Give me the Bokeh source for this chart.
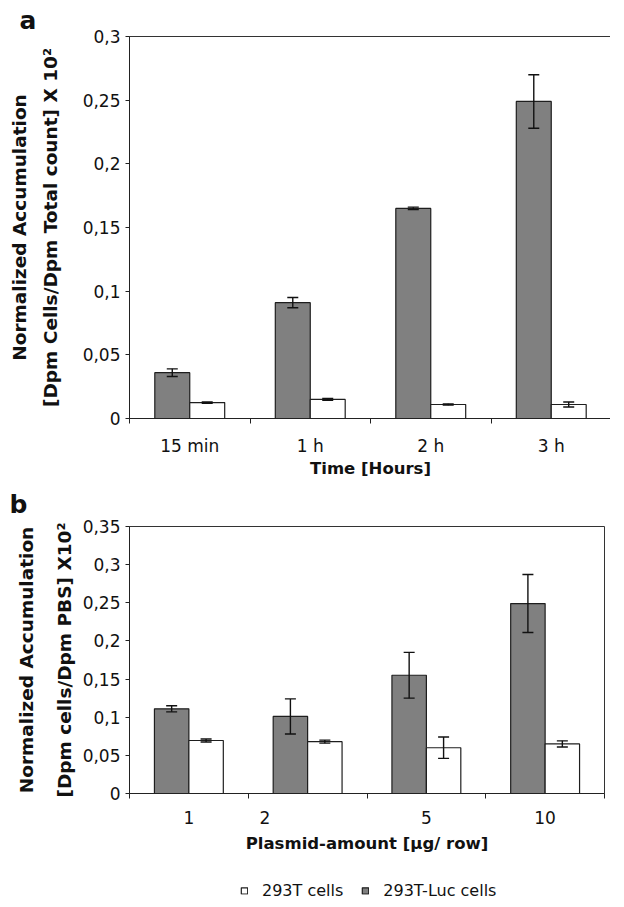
from bokeh.plotting import figure
from bokeh.models import (ColumnDataSource, Range1d, FixedTicker, Whisker, TeeHead,
                          Legend, LegendItem)
from bokeh.layouts import column
from bokeh.embed import file_html
from bokeh.resources import INLINE

# ---------------- data ----------------
time_labels = ["15 min", "1 h", "2 h", "3 h"]
luc_a = [0.036, 0.091, 0.165, 0.249]
luc_a_err = [0.003, 0.004, 0.001, 0.021]
ctrl_a = [0.0125, 0.015, 0.011, 0.011]
ctrl_a_err = [0.0005, 0.0007, 0.0005, 0.002]
ya_ticks = [0, 0.05, 0.1, 0.15, 0.2, 0.25, 0.3]
ya_labels = ["0", "0,05", "0,1", "0,15", "0,2", "0,25", "0,3"]

plasmid_labels = ["1", "2", "5", "10"]
luc_b = [0.111, 0.101, 0.155, 0.249]
luc_b_err = [0.004, 0.023, 0.030, 0.038]
ctrl_b = [0.0695, 0.068, 0.060, 0.065]
ctrl_b_err = [0.002, 0.002, 0.014, 0.004]
yb_ticks = [0, 0.05, 0.1, 0.15, 0.2, 0.25, 0.3, 0.35]
yb_labels = ["0", "0,05", "0,1", "0,15", "0,2", "0,25", "0,3", "0,35"]

legend_labels = ["293T cells", "293T-Luc cells"]

# ---------------- style ----------------
FONT = "DejaVu Sans"
GRAY = "#808080"
EDGE = "#1e1e1e"
BAR_W = 0.29
OFF_G = 0.355
OFF_W = 0.645


def panel(cats, luc, luc_err, ctrl, ctrl_err, yticks, ylabels, ymax,
          xlabel, ylabel, letter, fw, fh, bl, bt, bb, br, lab_shift, lh, y_standoff,
          title_standoff, x_standoff):
    p = figure(output_backend="svg", toolbar_location=None,
               frame_width=fw, frame_height=fh,
               min_border_left=bl, min_border_top=bt, min_border_bottom=bb,
               min_border_right=br,
               x_range=Range1d(0, len(cats)), y_range=Range1d(0, ymax))
    p.grid.visible = False
    p.outline_line_color = "#333333"
    p.outline_line_width = 1
    p.background_fill_color = "white"
    p.border_fill_color = "white"

    p.title.text = letter
    p.title.align = "left"
    p.title.offset = -(bl - 9)
    p.title.text_font = FONT
    p.title.text_font_style = "bold"
    p.title.text_font_size = "25px"
    p.title.text_color = "#111111"
    p.title.text_line_height = 1.0
    p.title.standoff = title_standoff

    idx = list(range(len(cats)))
    src_g = ColumnDataSource(dict(
        x=[i + OFF_G for i in idx], top=luc,
        up=[v + e for v, e in zip(luc, luc_err)],
        lo=[v - e for v, e in zip(luc, luc_err)]))
    src_w = ColumnDataSource(dict(
        x=[i + OFF_W for i in idx], top=ctrl,
        up=[v + e for v, e in zip(ctrl, ctrl_err)],
        lo=[v - e for v, e in zip(ctrl, ctrl_err)]))
    p.vbar(x="x", top="top", bottom=0, width=BAR_W, source=src_g,
           fill_color=GRAY, line_color=EDGE, line_width=1.2)
    p.vbar(x="x", top="top", bottom=0, width=BAR_W, source=src_w,
           fill_color="white", line_color=EDGE, line_width=1.2)
    for s in (src_g, src_w):
        w = Whisker(source=s, base="x", upper="up", lower="lo", dimension="height",
                    line_color="#111111", line_width=1.4, level="annotation",
                    upper_head=TeeHead(size=11, line_color="#111111", line_width=1.4),
                    lower_head=TeeHead(size=11, line_color="#111111", line_width=1.4))
        p.add_layout(w)

    # x axis: boundary minor ticks, labels at group centres
    label_pos = [i + 0.5 + s for i, s in zip(idx, lab_shift)]
    xa = p.xaxis[0]
    xa.ticker = FixedTicker(ticks=label_pos, minor_ticks=list(range(len(cats) + 1)))
    xa.major_label_overrides = {pos: c for pos, c in zip(label_pos, cats)}
    xa.major_tick_out = 0
    xa.major_tick_in = 0
    xa.minor_tick_out = 5
    xa.minor_tick_in = 0
    xa.minor_tick_line_color = "#222222"
    xa.axis_line_color = "#222222"
    xa.major_label_standoff = 12
    xa.major_label_text_font = FONT
    xa.major_label_text_font_size = "17px"
    xa.major_label_text_color = "#111111"
    xa.axis_label = xlabel
    xa.axis_label_text_font = FONT
    xa.axis_label_text_font_style = "bold"
    xa.axis_label_text_font_size = "16.5px"
    xa.axis_label_text_color = "#111111"
    xa.axis_label_standoff = x_standoff

    ya = p.yaxis[0]
    ya.ticker = FixedTicker(ticks=yticks)
    ya.major_label_overrides = {t: l for t, l in zip(yticks, ylabels)}
    ya.major_tick_out = 4
    ya.major_tick_in = 0
    ya.minor_tick_out = 0
    ya.minor_tick_in = 0
    ya.major_tick_line_color = "#222222"
    ya.axis_line_color = "#222222"
    ya.major_label_standoff = 5
    ya.major_label_text_font = FONT
    ya.major_label_text_font_size = "17px"
    ya.major_label_text_color = "#111111"
    ya.axis_label = ylabel
    ya.axis_label_text_font = FONT
    ya.axis_label_text_font_style = "bold"
    ya.axis_label_text_font_size = "18.5px"
    ya.axis_label_text_color = "#111111"
    ya.axis_label_text_line_height = lh
    ya.axis_label_standoff = y_standoff
    return p


pa = panel(time_labels, luc_a, luc_a_err, ctrl_a, ctrl_a_err, ya_ticks, ya_labels, 0.3,
           "Time [Hours]",
           "Normalized Accumulation\n[Dpm Cells/Dpm Total count] X 10\u00b2",
           "a", 482, 382, 119, 36, 56, 5, [0, 0, 0, 0], 1.45, 19, 3, 0)

pb = panel(plasmid_labels, luc_b, luc_b_err, ctrl_b, ctrl_b_err, yb_ticks, yb_labels, 0.35,
           "Plasmid-amount [\u03bcg/ row]",
           "Normalized Accumulation\n[Dpm cells/Dpm PBS] X10\u00b2",
           "b", 475, 267, 129, 43, 62, 4, [0, -0.36, 0, 0], 1.8, 5, 15, 7)

# ---------------- legend strip ----------------
pl = figure(output_backend="svg", toolbar_location=None,
            frame_width=608, frame_height=20,
            min_border_left=0, min_border_right=0, min_border_top=25, min_border_bottom=0,
            x_range=Range1d(0, 1), y_range=Range1d(0, 1),
            x_axis_location=None, y_axis_location=None)
pl.grid.visible = False
pl.outline_line_color = None
pl.border_fill_color = "white"
# swatch renderers (single point kept outside the visible range)
sw_w = pl.vbar(x=[-5], top=[-5], bottom=-6, width=1, fill_color="white",
               line_color=EDGE, line_width=1.2)
sw_g = pl.vbar(x=[-5], top=[-5], bottom=-6, width=1, fill_color=GRAY,
               line_color=EDGE, line_width=1.2)
legend = Legend(items=[LegendItem(label=legend_labels[0], renderers=[sw_w]),
                       LegendItem(label=legend_labels[1], renderers=[sw_g])],
                orientation="horizontal", location="center_left",
                glyph_width=8, glyph_height=8, label_standoff=14, spacing=18,
                label_text_font=FONT, label_text_font_size="16px", label_text_color="#111111",
                border_line_color=None, background_fill_alpha=0,
                padding=3, margin=240)
pl.add_layout(legend, "center")

layout = column(pa, pb, pl, spacing=0)
open("out.html", "w").write(file_html(layout, INLINE))
